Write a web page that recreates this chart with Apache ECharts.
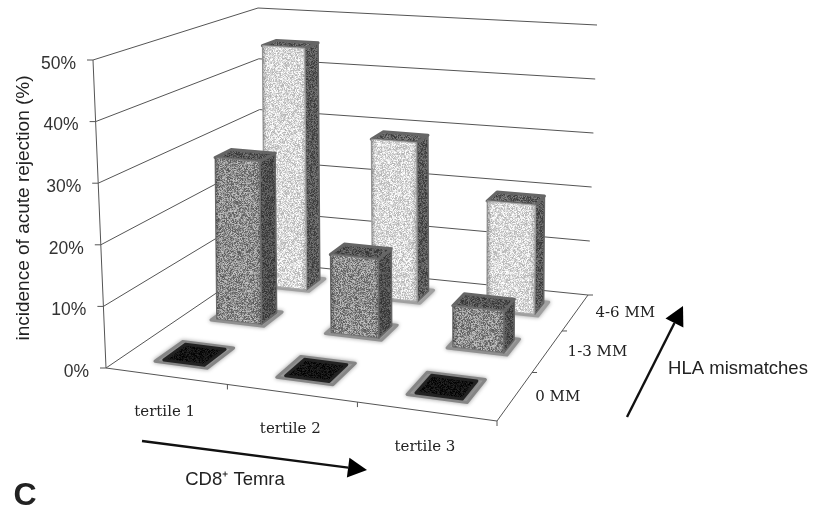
<!DOCTYPE html>
<html>
<head>
<meta charset="utf-8">
<style>html,body{margin:0;padding:0;background:#fff}#c{width:813px;height:512px;filter:blur(0.6px)}</style>
<script src="https://cdn.jsdelivr.net/npm/echarts@6/dist/echarts.min.js"></script>
</head>
<body>
<div id="c"></div>
<script>
// ---------- data ----------
var tertiles = ['tertile 1', 'tertile 2', 'tertile 3'];
var mismatches = ['0 MM', '1-3 MM', '4-6 MM'];
var percentTicks = [0, 10, 20, 30, 40, 50];
var values0MM = [0, 0, 0];
var values13MM = [28.5, 13.5, 7];
var values46MM = [45, 29, 19.5];

// ---------- picture-plane projection of the 3D box ----------
var floorQuad = [[106, 368], [497, 421], [588, 295], [262, 262]];
var roofQuad = [[93, 60], [508, 94], [597, 25], [258, 8]];
function homography(q) {
  var x0=q[0][0],y0=q[0][1],x1=q[1][0],y1=q[1][1],x2=q[2][0],y2=q[2][1],x3=q[3][0],y3=q[3][1];
  var dx1=x1-x2,dx2=x3-x2,sx=x0-x1+x2-x3,dy1=y1-y2,dy2=y3-y2,sy=y0-y1+y2-y3;
  var d=dx1*dy2-dx2*dy1;
  var g=(sx*dy2-dx2*sy)/d,h=(dx1*sy-sx*dy1)/d;
  var a=x1-x0+g*x1,b=x3-x0+h*x3,c=x0,e=y1-y0+g*y1,f=y3-y0+h*y3,k=y0;
  return function(u,v){var w=g*u+h*v+1;return [(a*u+b*v+c)/w,(e*u+f*v+k)/w];};
}
var hFloor = homography(floorQuad), hRoof = homography(roofQuad);
function project(u, v, val, lean) {
  var p = hFloor(u/3, v/3), q = hRoof(u/3, v/3), t = val/50;
  return [p[0]+(q[0]-p[0])*t*(lean===undefined?1:lean), p[1]+(q[1]-p[1])*t];
}

// ---------- speckle textures (style only) ----------
function speckle(base, spread) {
  var c = document.createElement('canvas'); c.width = c.height = 128;
  var ctx = c.getContext('2d'), img = ctx.createImageData(128, 128), s = 12345;
  for (var i = 0; i < img.data.length; i += 4) {
    s = (s * 1103515245 + 12345) & 0x7fffffff;
    var n = ((s >> 16) & 255) / 255 - 0.5;
    var g = Math.max(0, Math.min(255, base + n * spread));
    img.data[i] = img.data[i+1] = img.data[i+2] = g; img.data[i+3] = 255;
  }
  ctx.putImageData(img, 0, 0);
  return {image: c, repeat: 'repeat'};
}
var looks = {
  low: {front: speckle(18, 40), top: speckle(25, 40), side: speckle(25, 40), halo: '#858585', edge: '#666'},
  mid: {front: speckle(142, 110), top: speckle(85, 70), side: speckle(78, 60), halo: '#909090', edge: '#777'},
  high: {front: speckle(218, 80), top: speckle(95, 80), side: speckle(88, 70), halo: '#a0a0a0', edge: '#aaa'}
};
var edgeX = new echarts.graphic.LinearGradient(0,0,1,0,[
  {offset:0,color:'rgba(0,0,0,.3)'},{offset:.1,color:'rgba(0,0,0,0)'},{offset:.88,color:'rgba(0,0,0,0)'},{offset:1,color:'rgba(0,0,0,.18)'}]);
var gapU = 0.3, gapV = 0.34, gapFlat = 0.31, gapFlatU = 0.33;

function barItem(row, look) {
  return function(params, api) {
    var i = api.value(0), val = api.value(1), g = val > 0 ? gapV : gapFlat, gu = val > 0 ? gapU : gapFlatU;
    var u0=i+gu,u1=i+1-gu,v0=row+g,v1=row+1-g;
    function P(u,v,h){return api.coord(project(u,v,h,0.35));}
    var kids = [];
    var e = val > 0 ? 0.035 : 0.05;
    kids.push({type:'polygon',shape:{points:[P(u0-e,v0-e,0),P(u1+e,v0-e,0),P(u1+e,v1+e,0),P(u0-e,v1+e,0)]},
      style:{fill:look.halo,stroke:look.halo,lineWidth:3,lineJoin:'round',shadowBlur:4,shadowColor:'#aaa'}});
    if (val > 0) {
      kids.push({type:'polygon',shape:{points:[P(u1,v0,0),P(u1,v1,0),P(u1,v1,val),P(u1,v0,val)]},
        style:{fill:look.side,stroke:'#666',lineWidth:1.5,lineJoin:'round'}});
      kids.push({type:'polygon',shape:{points:[P(u0,v0,val),P(u1,v0,val),P(u1,v1,val),P(u0,v1,val)]},
        style:{fill:look.top,stroke:'#666',lineWidth:3,lineJoin:'round'}});
      var fr=[P(u0,v0,0),P(u1,v0,0),P(u1,v0,val),P(u0,v0,val)];
      kids.push({type:'polygon',shape:{points:fr},style:{fill:look.front,stroke:look.edge,lineWidth:1,lineJoin:'round'}});
      kids.push({type:'polygon',shape:{points:fr},style:{fill:edgeX}});
    } else {
      kids.push({type:'polygon',shape:{points:[P(u0,v0,0),P(u1,v0,0),P(u1,v1,0),P(u0,v1,0)]},
        style:{fill:look.front,stroke:'#222',lineWidth:3,lineJoin:'round'}});
    }
    return {type:'group',children:kids};
  };
}
var LINE = '#555';
function seg(api,a,b,w){var p=api.coord(a),q=api.coord(b);return {type:'line',shape:{x1:p[0],y1:p[1],x2:q[0],y2:q[1]},style:{stroke:LINE,lineWidth:w||1,fill:null}};}
function gridItem(params, api) {
  var h = api.value(0), kids = [];
  var a = project(0,0,h), d = project(0,3,h), c = project(3,3,h);
  kids.push(seg(api,a,d),seg(api,d,c),seg(api,[a[0]-6,a[1]],a));
  var lp = api.coord([a[0]-17,a[1]+3]);
  kids.push({type:'text',style:{text:percentTicks[params.dataIndex]+'%',x:lp[0],y:lp[1]+1,align:'right',verticalAlign:'middle',font:'17.5px "Liberation Sans"',fill:'#333'}});
  return {type:'group',children:kids};
}
function frameItem(params, api) {
  var a=project(0,0,0),b=project(3,0,0),c=project(3,3,0),top=project(0,0,50);
  return {type:'group',children:[seg(api,a,b),seg(api,b,c),seg(api,a,top)]};
}
function tertileItem(params, api) {
  var i = api.value(0), t = project(i+1,0,0), m = project(i+0.5,0,0);
  var lp = api.coord([m[0]-1,m[1]+36]);
  return {type:'group',children:[seg(api,t,[t[0],t[1]+5]),
    {type:'text',style:{text:tertiles[i],x:lp[0],y:lp[1],align:'center',verticalAlign:'middle',font:'15px "DejaVu Serif"',fill:'#222'}}]};
}
function mismatchItem(params, api) {
  var j = api.value(0), t = project(3,j+1,0), m = project(3,j+0.5,0);
  var lp = api.coord([m[0]+20,m[1]+1]);
  return {type:'group',children:[seg(api,t,[t[0]+5,t[1]]),
    {type:'text',style:{text:mismatches[j],x:lp[0],y:lp[1],align:'left',verticalAlign:'middle',font:'15px "DejaVu Serif"',fill:'#222'}}]};
}
function rows(arr){return arr.map(function(v,i){return [i,v];});}
function custom(name,data,fn){return {type:'custom',name:name,coordinateSystem:'cartesian2d',data:data,renderItem:fn,silent:true,clip:false,encode:{x:0,y:1}};}
function arrow(x1,y1,x2,y2){
  var a=Math.atan2(y2-y1,x2-x1),L=19,W=10;
  var bx=x2-L*Math.cos(a),by=y2-L*Math.sin(a),nx=-Math.sin(a)*W,ny=Math.cos(a)*W;
  return [{type:'line',shape:{x1:x1,y1:y1,x2:bx,y2:by},style:{stroke:'#111',lineWidth:2.4}},
    {type:'polygon',shape:{points:[[x2,y2],[bx+nx,by+ny],[bx-nx,by-ny]]},style:{fill:'#000'}}];
}
function label(text,x,y,font,extra){
  var o={type:'text',x:x,y:y,style:{text:text,font:font,fill:'#222',align:'center',verticalAlign:'middle'}};
  for(var k in extra)o[k]=extra[k];return o;
}
var chart = echarts.init(document.getElementById('c'), null, {renderer:'canvas'});
chart.setOption({
  animation:false,
  backgroundColor:'#fff',
  grid:{left:0,right:0,top:0,bottom:0},
  xAxis:{type:'value',min:0,max:813,show:false},
  yAxis:{type:'value',min:0,max:512,inverse:true,show:false},
  series:[
    custom('grid',rows(percentTicks).map(function(r){return [r[1],0];}),gridItem),
    custom('frame',[[0,0]],frameItem),
    custom('tertiles',rows(tertiles.map(function(){return 0;})),tertileItem),
    custom('mismatches',rows(mismatches.map(function(){return 0;})),mismatchItem),
    custom('4-6 MM',rows(values46MM),barItem(2,looks.high)),
    custom('1-3 MM',rows(values13MM),barItem(1,looks.mid)),
    custom('0 MM',rows(values0MM),barItem(0,looks.low))
  ],
  graphic:[].concat(arrow(142,441,367,470),arrow(627,417,683,306),[
    label('incidence of acute rejection (%)',24,208,'19px "Liberation Sans"',{rotation:Math.PI/2}),
    label('CD8\u207A Temra',235,480,'18.5px "Liberation Sans"'),
    label('HLA mismatches',738,369,'18.5px "Liberation Sans"'),
    label('C',25,496,'bold 32px "Liberation Sans"',{})
  ])
});
</script>
</body>
</html>
